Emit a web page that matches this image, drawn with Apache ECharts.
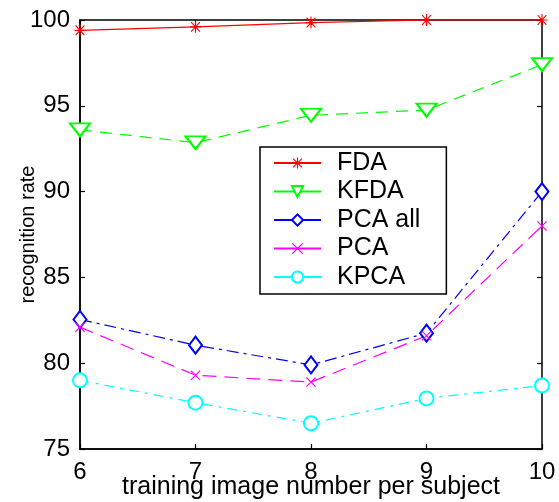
<!DOCTYPE html>
<html>
<head>
<meta charset="utf-8">
<script src="https://cdn.jsdelivr.net/npm/echarts@6/dist/echarts.min.js"></script>
<style>
  html, body { margin: 0; padding: 0; background: #fff; }
  #main { width: 559px; height: 502px; }
</style>
</head>
<body>
<div id="main"></div>
<script>
// training image number per subject
const xValues = [6, 7, 8, 9, 10];
const fda = [99.4, 99.6, 99.85, 100, 100];
const kfda = [93.6, 92.85, 94.45, 94.75, 97.4];
const pcaAll = [82.55, 81.05, 79.9, 81.75, 90.0];
const pca = [82.1, 79.3, 78.9, 81.6, 88.0];
const kpca = [79.0, 77.7, 76.5, 77.95, 78.7];

const font = '"Liberation Sans", Arial, sans-serif';

const asterisk = 'path://M0,9L20,9L20,11L0,11Z M9,0L11,0L11,20L9,20Z ' +
    'M1.3,2.7L2.7,1.3L18.7,17.3L17.3,18.7Z M17.3,1.3L18.7,2.7L2.7,18.7L1.3,17.3Z';
const cross = 'path://M1.3,2.7L2.7,1.3L18.7,17.3L17.3,18.7Z M17.3,1.3L18.7,2.7L2.7,18.7L1.3,17.3Z';

const pairs = (ys) => xValues.map((x, i) => [x, ys[i]]);

const makeSeries = (name, ys, color, dash, symbol, size, extra) => Object.assign({
    name: name,
    type: 'line',
    data: pairs(ys),
    symbol: symbol,
    symbolSize: size,
    showAllSymbol: true,
    lineStyle: {color: color, width: 1.2, type: dash},
    itemStyle: {color: color, borderColor: color, borderWidth: 1.2},
    emphasis: {disabled: true},
    z: 3
}, extra || {});

const myChart = echarts.init(document.getElementById('main'));

const tickInside = {show: true, inside: true, length: 5, lineStyle: {color: '#000', width: 1.2}};

const option = {
    animation: false,
    backgroundColor: '#fff',
    grid: {
        left: 80, top: 20, right: 17, bottom: 53,
        outerBoundsMode: 'none',
        containLabel: false,
        show: true, borderColor: '#000', borderWidth: 1.5
    },
    legend: {
        orient: 'vertical',
        left: 260,
        top: 147,
        padding: [3.5, 26, 4.5, 13],
        itemWidth: 47,
        itemHeight: 14,
        itemGap: 3.5,
        backgroundColor: '#fff',
        borderColor: '#000',
        borderWidth: 1.5,
        borderRadius: 0,
        lineStyle: {type: 'solid'},
        textStyle: {fontFamily: font, fontSize: 25, color: '#000', padding: [0, 0, 0, 11]},
        data: ['FDA', 'KFDA', 'PCA all', 'PCA', 'KPCA']
    },
    xAxis: [{
        type: 'value',
        min: 6, max: 10, interval: 1,
        name: 'training image number per subject',
        nameLocation: 'middle',
        nameGap: 26,
        nameMoveOverlap: false,
        nameTextStyle: {fontFamily: font, fontSize: 25, color: '#000'},
        axisLine: {show: true, lineStyle: {color: '#000', width: 1.5}},
        axisTick: tickInside,
        axisLabel: {fontFamily: font, fontSize: 24, color: '#000', margin: 11},
        splitLine: {show: false}
    }, {
        type: 'value',
        position: 'top',
        min: 6, max: 10, interval: 1,
        axisLine: {show: false},
        axisTick: tickInside,
        axisLabel: {show: false},
        splitLine: {show: false}
    }],
    yAxis: [{
        type: 'value',
        min: 75, max: 100, interval: 5,
        name: 'recognition rate',
        nameLocation: 'middle',
        nameRotate: 90,
        nameGap: 42,
        nameMoveOverlap: false,
        nameTextStyle: {fontFamily: font, fontSize: 20, color: '#000'},
        axisLine: {show: true, lineStyle: {color: '#000', width: 1.5}},
        axisTick: tickInside,
        axisLabel: {fontFamily: font, fontSize: 24, color: '#000', margin: 10},
        splitLine: {show: false}
    }, {
        type: 'value',
        position: 'right',
        min: 75, max: 100, interval: 5,
        axisLine: {show: false},
        axisTick: tickInside,
        axisLabel: {show: false},
        splitLine: {show: false}
    }],
    series: [
        makeSeries('FDA', fda, '#ff0000', 'solid', asterisk, [11, 12], {itemStyle: {color: '#ff0000', borderWidth: 0}}),
        makeSeries('KFDA', kfda, '#00ff00', [12, 8], 'emptyTriangle', [20, 13], {symbolRotate: 180}),
        makeSeries('PCA all', pcaAll, '#0000ff', [12, 5, 3, 5], 'emptyDiamond', [13, 17]),
        makeSeries('PCA', pca, '#ff00ff', [14, 8], cross, [10, 10], {itemStyle: {color: '#ff00ff', borderWidth: 0}}),
        makeSeries('KPCA', kpca, '#00ffff', [10, 6, 3, 6], 'emptyCircle', 14)
    ]
};

myChart.setOption(option);
</script>
</body>
</html>
